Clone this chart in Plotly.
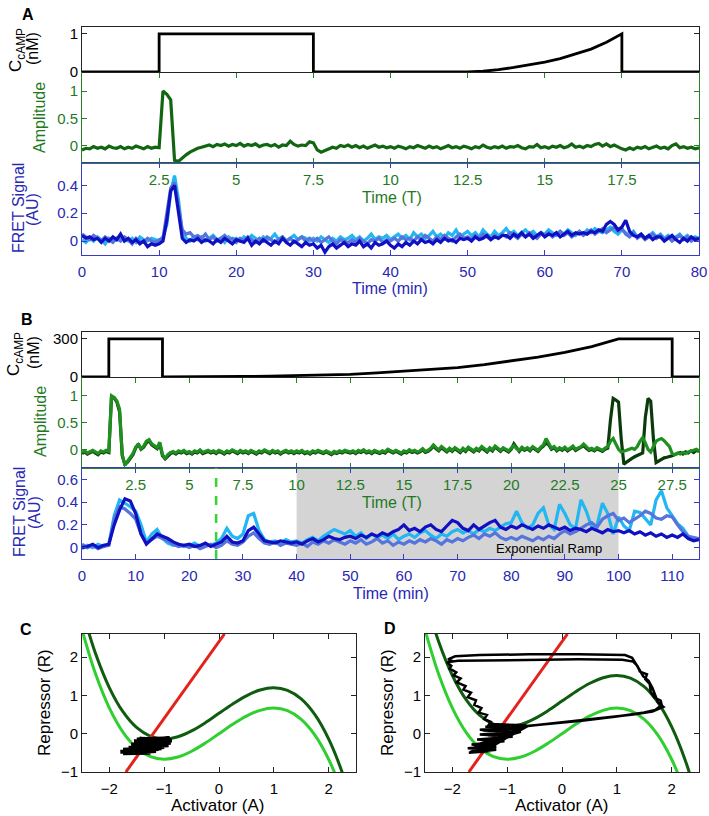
import numpy as np
import plotly.graph_objects as go

FONT = "Liberation Sans, Arial, sans-serif"
W, H = 709, 816

# ------------------------------------------------------------------ data
# Panel A : time grid (min) and traces
tA = np.arange(0, 80.01, 0.5)
ampA = [
    -0.08, -0.05, -0.06, -0.02, -0.05, -0.03, -0.06, -0.01, -0.04, -0.05,
    -0.02, -0.06, -0.03, -0.05, -0.01, -0.04, -0.06, -0.02, -0.05, -0.03,
    -0.04, 1.0, 0.94, 0.84, -0.27, -0.29, -0.22, -0.17, -0.12, -0.08,
    -0.05, -0.03, -0.01, 0.01, -0.02, 0.02, 0.0, 0.03, -0.01, 0.02,
    0.0, 0.04, -0.01, 0.02, 0.0, 0.03, -0.02, 0.01, 0.02, -0.01,
    0.02, -0.03, 0.01, 0.0, 0.08, 0.02, -0.01, 0.01, 0.0, 0.07,
    0.05, -0.08, -0.12, -0.09, -0.06, -0.03, -0.05, 0.0, -0.02, 0.01,
    -0.03, 0.0, -0.04, -0.01, -0.05, -0.02, 0.01, -0.03, -0.01, -0.04,
    -0.02, -0.05, -0.01, -0.03, -0.06, -0.02, -0.04, 0.0, -0.03, -0.05,
    -0.01, -0.04, -0.02, -0.06, -0.03, 0.0, -0.04, -0.02, -0.05, -0.01,
    -0.03, -0.06, -0.02, -0.04, 0.01, -0.03, -0.05, -0.02, -0.04, -0.01,
    -0.05, -0.02, -0.03, 0.0, -0.04, -0.06, -0.02, -0.03, 0.02, -0.04,
    -0.02, -0.05, -0.01, -0.03, 0.0, -0.04, -0.02, 0.03, -0.03, -0.01,
    -0.04, 0.0, -0.02, 0.02, 0.04, -0.01, 0.03, -0.02, 0.01, -0.03,
    -0.06, -0.08, -0.04, -0.07, -0.03, -0.05, -0.02, -0.06, -0.04, -0.01,
    -0.05, -0.03, -0.06, 0.0, 0.03, -0.04, -0.02, -0.05, -0.03, -0.06,
    -0.04]
fretA_cyan = [
    0.01, -0.01, 0.02, 0.0, 0.03, 0.01, -0.02, 0.02, 0.0, 0.01,
    0.03, 0.01, 0.0, 0.02, -0.01, 0.03, 0.01, 0.0, 0.02, 0.01,
    0.0, 0.03, 0.12, 0.35, 0.47, 0.3, 0.06, 0.02, 0.0, 0.03,
    0.01, 0.03, 0.0, 0.02, 0.04, 0.01, 0.02, -0.01, 0.03, 0.01,
    0.02, 0.0, 0.03, 0.01, 0.04, 0.02, 0.0, 0.03, 0.01, 0.02,
    0.05, 0.01, 0.03, 0.0, 0.02, 0.04, 0.01, 0.03, 0.02, 0.0,
    0.02, 0.0, 0.03, 0.01, -0.01, 0.02, 0.0, 0.03, 0.01, 0.02,
    0.04, 0.01, 0.03, 0.0, 0.02, 0.05, 0.01, 0.03, 0.02, 0.04,
    0.01, 0.03, 0.05, 0.02, 0.04, 0.01, 0.06, 0.03, 0.05, 0.02,
    0.04, 0.07, 0.03, 0.05, 0.02, 0.06, 0.04, 0.08, 0.03, 0.05,
    0.07, 0.04, 0.06, 0.03, 0.08, 0.05, 0.03, 0.07, 0.04, 0.06,
    0.09, 0.05, 0.07, 0.04, 0.06, 0.08, 0.05, 0.07, 0.04, 0.06,
    0.05, 0.08, 0.06, 0.04, 0.07, 0.05, 0.08, 0.06, 0.04, 0.07,
    0.05, 0.08, 0.06, 0.09, 0.07, 0.06, 0.08, 0.1, 0.07, 0.05,
    0.08, 0.06, 0.04, 0.07, 0.03, 0.05, 0.02, 0.04, 0.06, 0.03,
    0.05, 0.02, 0.04, 0.01, 0.03, 0.05, 0.02, 0.04, 0.01, 0.03,
    0.02]
fretA_med = [
    0.05, 0.03, 0.01, 0.04, 0.02, 0.0, 0.03, 0.01, -0.01, 0.02,
    0.0, 0.03, 0.01, -0.02, 0.02, 0.0, -0.01, 0.02, 0.0, -0.01,
    0.01, 0.02, 0.2, 0.38, 0.42, 0.26, 0.08, 0.05, 0.06, 0.03,
    0.04, 0.02, 0.05, 0.01, 0.03, 0.0, 0.02, 0.04, 0.01, 0.02,
    -0.01, 0.02, 0.0, 0.03, 0.01, -0.01, 0.02, 0.0, 0.03, 0.01,
    -0.01, 0.01, 0.03, 0.0, 0.02, -0.01, 0.01, 0.03, 0.0, 0.02,
    0.0, 0.02, -0.01, 0.01, 0.03, 0.0, -0.02, 0.01, 0.0, -0.01,
    0.01, -0.01, 0.02, 0.0, -0.02, 0.01, 0.0, 0.02, -0.01, 0.01,
    0.0, 0.02, 0.0, 0.03, 0.01, 0.02, 0.0, 0.03, 0.01, 0.04,
    0.02, 0.0, 0.03, 0.01, 0.04, 0.02, 0.0, 0.03, 0.05, 0.02,
    0.03, 0.01, 0.04, 0.02, 0.05, 0.03, 0.01, 0.04, 0.02, 0.05,
    0.03, 0.06, 0.04, 0.02, 0.05, 0.03, 0.06, 0.04, 0.02, 0.05,
    0.04, 0.06, 0.03, 0.05, 0.07, 0.04, 0.06, 0.03, 0.05, 0.07,
    0.04, 0.06, 0.08, 0.05, 0.07, 0.09, 0.06, 0.08, 0.1, 0.07,
    0.09, 0.05, 0.03, 0.06, 0.02, 0.04, 0.01, 0.03, 0.05, 0.02,
    0.04, 0.01, 0.03, 0.0, 0.02, 0.04, 0.01, 0.03, 0.0, 0.02,
    0.01]
fretA_dark = [
    0.04, 0.02, 0.03, 0.01, 0.02, -0.01, 0.02, 0.0, 0.03, 0.01,
    0.05, 0.0, 0.02, -0.01, 0.01, -0.02, 0.0, -0.04, -0.02, -0.03,
    -0.02, 0.0, 0.15, 0.36, 0.4, 0.22, 0.02, -0.01, 0.01, 0.0,
    0.02, -0.01, 0.01, 0.0, -0.02, 0.01, -0.01, 0.02, 0.0, -0.02,
    0.01, 0.0, -0.01, 0.02, -0.03, 0.0, -0.02, 0.01, -0.01, -0.03,
    0.0, -0.02, 0.02, -0.01, -0.03, 0.0, -0.02, -0.04, -0.01, -0.03,
    -0.02, -0.05, -0.03, -0.08, -0.04, -0.02, -0.05, -0.03, -0.01, -0.04,
    -0.02, -0.03, 0.0, -0.04, -0.02, -0.05, -0.01, -0.03, -0.02, 0.0,
    -0.03, -0.05, -0.02, -0.04, -0.01, -0.03, 0.0, -0.02, 0.01, -0.01,
    0.0, -0.02, 0.01, -0.01, 0.02, 0.0, 0.01, -0.01, 0.02, 0.01,
    0.02, 0.0, 0.03, 0.01, 0.02, 0.04, 0.01, 0.03, 0.02, 0.04,
    0.04, 0.02, 0.05, 0.03, 0.06, 0.03, 0.05, 0.02, 0.04, 0.06,
    0.03, 0.05, 0.04, 0.06, 0.03, 0.05, 0.07, 0.04, 0.06, 0.05,
    0.06, 0.05, 0.07, 0.06, 0.08, 0.07, 0.12, 0.14, 0.12, 0.08,
    0.1, 0.15, 0.07, 0.04, 0.03, 0.05, 0.02, 0.04, 0.01, 0.03,
    0.03, 0.0, 0.02, 0.04, 0.01, -0.01, 0.02, 0.0, 0.03, 0.01,
    0.02]
cA_t = [0, 10, 10, 30, 30, 50, 52, 54, 56, 58, 60, 62, 64, 66, 68, 70, 70, 80]
cA_v = [0, 0, 1, 1, 0, 0, 0.02, 0.06, 0.12, 0.19, 0.26, 0.35, 0.47, 0.6, 0.78, 1.0, 0, 0]

# Panel B
tB_amp = np.arange(0, 115.01, 0.5)
ampB_med = [
    -0.06, -0.03, -0.07, -0.04, -0.02, -0.05, -0.08, -0.03, -0.05, -0.02,
    -0.04, 1.0, 0.97, 0.9, 0.75, -0.1, -0.3, -0.22, -0.14, -0.08,
    0.04, 0.09, 0.01, 0.06, 0.15, 0.18, 0.1, 0.07, 0.03, 0.13,
    -0.1, -0.17, -0.1, -0.06, -0.04, -0.07, -0.03, -0.05, -0.02, -0.06,
    -0.04, -0.07, -0.03, -0.05, -0.01, -0.06, -0.04, -0.02, -0.05, -0.03,
    -0.06, -0.02, -0.04, -0.07, -0.03, -0.05, -0.01, -0.04, -0.06, -0.02,
    -0.05, -0.03, -0.06, -0.02, -0.04, -0.07, -0.03, -0.05, -0.01, -0.04,
    -0.06, -0.02, -0.05, -0.03, -0.07, -0.04, -0.02, -0.05, -0.03, -0.06,
    -0.03, -0.05, -0.02, -0.06, -0.04, -0.07, -0.03, -0.05, -0.02, -0.04,
    -0.06, -0.03, -0.05, -0.08, -0.04, -0.06, -0.03, -0.05, -0.02, -0.04,
    -0.05, -0.03, -0.06, -0.02, -0.04, -0.01, -0.05, -0.03, -0.06, -0.02,
    -0.04, -0.06, -0.03, -0.05, 0.0, -0.03, -0.05, -0.02, -0.04, -0.07,
    -0.03, -0.05, -0.01, -0.04, -0.02, -0.05, -0.03, 0.01, -0.04, -0.02,
    0.02, 0.08, 0.03, -0.01, 0.05, 0.01, -0.03, 0.02, -0.02, 0.03,
    -0.01, -0.04, 0.02, -0.02, 0.04, 0.0, -0.03, 0.02, -0.01, 0.05,
    0.0, -0.03, 0.03, -0.01, 0.06, 0.01, -0.02, 0.03, 0.0, -0.03,
    0.02, 0.07, 0.01, -0.02, 0.04, 0.0, 0.03, -0.01, 0.05, 0.01,
    -0.02, 0.04, 0.08, 0.2, 0.12, 0.02, 0.05, -0.01, 0.03, 0.0,
    0.04, -0.01, 0.02, 0.06, 0.0, 0.03, 0.05, 0.1, 0.04, 0.0,
    0.02, -0.01, 0.03, 0.0, -0.02, 0.02, 0.05, 0.15, 0.2, 0.1,
    0.0, -0.05, -0.04, -0.02, 0.0, 0.02, 0.0, 0.05, 0.15, 0.22,
    0.12, 0.0, -0.05, 0.05, 0.15, 0.18, 0.2, 0.16, 0.1, 0.05,
    -0.08, -0.1, -0.07, -0.09, -0.06, -0.08, -0.05, -0.04, -0.02, 0.0,
    -0.03]
ampB_dark = [
    -0.08, -0.05, -0.09, -0.06, -0.04, -0.07, -0.1, -0.05, -0.07, -0.04,
    -0.06, 0.98, 0.96, 0.88, 0.7, -0.12, -0.28, -0.24, -0.16, -0.1,
    0.02, 0.1, 0.0, 0.04, 0.12, 0.16, 0.08, 0.05, 0.01, 0.1,
    -0.12, -0.18, -0.12, -0.08, -0.06, -0.09, -0.05, -0.07, -0.04, -0.08,
    -0.06, -0.09, -0.05, -0.07, -0.03, -0.08, -0.06, -0.04, -0.07, -0.05,
    -0.08, -0.04, -0.06, -0.09, -0.05, -0.07, -0.03, -0.06, -0.08, -0.04,
    -0.07, -0.05, -0.08, -0.04, -0.06, -0.09, -0.05, -0.07, -0.03, -0.06,
    -0.08, -0.04, -0.07, -0.05, -0.09, -0.06, -0.04, -0.07, -0.05, -0.08,
    -0.05, -0.07, -0.04, -0.08, -0.06, -0.09, -0.05, -0.07, -0.04, -0.06,
    -0.08, -0.05, -0.07, -0.1, -0.06, -0.08, -0.05, -0.07, -0.04, -0.06,
    -0.07, -0.05, -0.08, -0.04, -0.06, -0.03, -0.07, -0.05, -0.08, -0.04,
    -0.06, -0.08, -0.05, -0.07, -0.02, -0.05, -0.07, -0.04, -0.06, -0.09,
    -0.05, -0.07, -0.03, -0.06, -0.04, -0.07, -0.05, -0.01, -0.06, -0.04,
    0.0, 0.06, 0.01, -0.03, 0.03, -0.01, -0.05, 0.0, -0.04, 0.01,
    -0.03, -0.06, 0.0, -0.04, 0.02, -0.02, -0.05, 0.0, -0.03, 0.03,
    -0.02, -0.05, 0.01, -0.03, 0.04, -0.01, -0.04, 0.01, -0.02, -0.05,
    0.0, 0.1, 0.03, -0.04, 0.02, -0.02, 0.01, -0.03, 0.03, -0.01,
    -0.04, 0.02, 0.06, 0.12, 0.08, 0.0, 0.03, -0.03, 0.01, -0.02,
    0.02, -0.03, 0.0, 0.04, -0.02, 0.01, 0.03, 0.07, 0.02, -0.02,
    0.0, -0.03, 0.01, -0.02, -0.04, 0.0, 0.02, 0.55, 0.95, 0.92,
    0.88, 0.2, -0.28, -0.24, -0.2, -0.17, -0.14, -0.12, -0.1, -0.07,
    0.6, 0.95, 0.9, 0.2, -0.25, -0.22, -0.18, -0.16, -0.15, -0.14,
    -0.12, -0.1, -0.08, -0.06, -0.09, -0.05, -0.07, -0.03, -0.06, -0.02,
    -0.04]
tB = np.arange(0, 115.01, 1.0)
fretB_cyan = [
    -0.01, 0.02, 0.0, 0.03, 0.01, 0.03, 0.28, 0.42, 0.39, 0.36,
    0.32, 0.2, 0.05, 0.12, 0.16, 0.08, 0.04, 0.02, 0.03, 0.01,
    0.02, 0.04, 0.01, 0.03, 0.02, 0.04, 0.08, 0.17, 0.1, 0.08,
    0.12, 0.28, 0.3, 0.15, 0.07, 0.05, 0.06, 0.04, 0.07, 0.05,
    0.06, 0.04, 0.07, 0.09, 0.06, 0.1, 0.13, 0.16, 0.14, 0.12,
    0.15, 0.1, 0.13, 0.08, 0.12, 0.09, 0.11, 0.08, 0.12, 0.07,
    0.1, 0.12, 0.09, 0.13, 0.15, 0.11, 0.08, 0.12, 0.1, 0.14,
    0.16, 0.13, 0.15, 0.12, 0.16, 0.14, 0.17, 0.15, 0.18, 0.21,
    0.22, 0.32, 0.22, 0.17, 0.2, 0.3, 0.35, 0.2, 0.16, 0.38,
    0.3, 0.2, 0.17, 0.42, 0.32, 0.18, 0.2, 0.39, 0.3, 0.12,
    0.27, 0.19, 0.15, 0.32, 0.31, 0.25, 0.2, 0.42, 0.5, 0.35,
    0.28, 0.21, 0.17, 0.1, 0.08, 0.08]
fretB_med = [
    0.03, 0.0, 0.02, -0.01, 0.01, 0.02, 0.25, 0.36, 0.34, 0.3,
    0.25, 0.12, 0.04, 0.07, 0.1, 0.08, 0.06, 0.03, 0.01, 0.02,
    0.0, 0.02, -0.01, 0.01, 0.03, 0.0, 0.02, 0.06, 0.03, 0.02,
    0.05, 0.1, 0.13, 0.08, 0.04, 0.03, 0.05, 0.02, 0.04, 0.03,
    0.02, 0.04, 0.01, 0.05, 0.03, 0.06, 0.04, 0.07, 0.05, 0.03,
    0.06, 0.04, 0.07, 0.03, 0.05, 0.08, 0.04, 0.06, 0.02, 0.05,
    0.03, 0.06, 0.04, 0.07, 0.05, 0.08, 0.06, 0.03, 0.07, 0.05,
    0.08, 0.06, 0.09, 0.11, 0.08, 0.12, 0.1, 0.13, 0.09, 0.07,
    0.09, 0.07, 0.1, 0.08, 0.06, 0.09, 0.07, 0.1, 0.08, 0.12,
    0.15, 0.12, 0.14, 0.17, 0.2, 0.22, 0.18, 0.25, 0.28, 0.3,
    0.24, 0.26, 0.22, 0.25, 0.28, 0.32, 0.3, 0.26, 0.25, 0.28,
    0.27, 0.2, 0.14, 0.1, 0.09, 0.08]
fretB_dark = [
    0.0, 0.01, 0.03, 0.0, 0.02, 0.03, 0.2, 0.33, 0.43, 0.41,
    0.3, 0.12, 0.03, 0.08, 0.12, 0.1, 0.08, 0.05, 0.03, 0.02,
    0.03, 0.01, 0.02, 0.04, 0.01, 0.03, 0.05, 0.1, 0.05, 0.04,
    0.06, 0.15, 0.18, 0.12, 0.06, 0.05, 0.04, 0.06, 0.05, 0.04,
    0.05, 0.03, 0.06, 0.08, 0.05, 0.07, 0.1, 0.08, 0.07, 0.09,
    0.1, 0.08, 0.11, 0.09, 0.12, 0.1, 0.13, 0.11, 0.14, 0.16,
    0.2, 0.15, 0.17, 0.14, 0.18, 0.2, 0.16, 0.14, 0.19, 0.24,
    0.22, 0.17, 0.15, 0.2, 0.16, 0.19, 0.22, 0.24, 0.18, 0.16,
    0.19, 0.17, 0.2, 0.18, 0.16, 0.19, 0.17, 0.2, 0.18, 0.16,
    0.18, 0.15, 0.17, 0.16, 0.14, 0.17, 0.15, 0.13, 0.16, 0.14,
    0.15, 0.13, 0.15, 0.12, 0.14, 0.11, 0.13, 0.1, 0.12, 0.09,
    0.11, 0.09, 0.12, 0.08, 0.06, 0.07]
cB_t = [0, 5, 5, 15, 15, 25, 30, 35, 40, 45, 50, 55, 60, 65, 70, 75, 80, 85, 90, 95, 100, 110, 110, 115]
cB_v = [0, 0, 300, 300, 0, 0, 4, 7, 11, 15, 21, 32, 45, 58, 74, 98, 127, 157, 194, 240, 300, 300, 0, 0]

# tick labels
TA_pos = [10, 20, 30, 40, 50, 60, 70]
TA_lab = ["2.5", "5", "7.5", "10", "12.5", "15", "17.5"]
TB_pos = [10, 20, 30, 40, 50, 60, 70, 80, 90, 100, 110]
TB_lab = ["2.5", "5", "7.5", "10", "12.5", "15", "17.5", "20", "22.5", "25", "27.5"]

# Panels C and D : nullclines
nc_A = [-2.5, -2.25, -2.0, -1.75, -1.5, -1.25, -1.0, -0.75, -0.5, -0.25, 0.0,
        0.25, 0.5, 0.75, 1.0, 1.25, 1.5, 1.75, 2.0, 2.25, 2.5]
nc_light = [2.708, 1.547, 0.667, 0.036, -0.375, -0.599, -0.667, -0.609, -0.458, -0.245, 0.0,
            0.245, 0.458, 0.609, 0.667, 0.599, 0.375, -0.036, -0.667, -1.547, -2.708]
nc_darkC = [3.238, 2.077, 1.197, 0.566, 0.155, -0.069, -0.137, -0.079, 0.072, 0.285, 0.53,
            0.775, 0.988, 1.139, 1.197, 1.129, 0.905, 0.494, -0.137, -1.017, -2.178]
nc_darkD = [3.558, 2.397, 1.517, 0.886, 0.475, 0.251, 0.183, 0.241, 0.392, 0.605, 0.85,
            1.095, 1.308, 1.459, 1.517, 1.449, 1.225, 0.814, 0.183, -0.697, -1.858]
red_A = [-1.7, 0.1]
red_R = [-1.0, 2.6]
trajC_A = [-1.5, -0.9, -1.55, -0.86, -1.5, -0.88, -1.6, -0.92, -1.65, -1.0, -1.75, -1.1,
           -1.8, -1.15, -1.75, -1.25, -1.7, -1.05, -1.6, -0.95, -1.45, -1.0, -1.4, -1.3,
           -1.2, -1.55, -0.95, -1.7, -1.35]
trajC_R = [-0.15, -0.12, -0.2, -0.18, -0.26, -0.24, -0.32, -0.3, -0.37, -0.35, -0.42, -0.4,
           -0.47, -0.45, -0.51, -0.5, -0.44, -0.38, -0.28, -0.22, -0.13, -0.15, -0.3, -0.47,
           -0.2, -0.38, -0.27, -0.5, -0.35]
trajD_A = [-1.3, -1.7, -1.2, -1.72, -1.25, -1.65, -1.05, -1.55, -0.9, -1.5, -0.8, -1.45, -0.7,
           -1.4, -0.65, -1.3, -0.75, -1.35, -0.95, -1.6, -1.45,
           -0.65, -0.2, 0.4, 1.0, 1.3, 1.5, 1.7, 1.82, 1.8, 1.68, 1.62, 1.6, 1.52, 1.55, 1.42,
           1.38, 1.3, 1.1, 0.3, -0.6, -1.4, -1.9, -2.1, -2.02, -2.05, -1.93, -1.98, -1.85, -1.92,
           -1.76, -1.8, -1.66, -1.72, -1.57, -1.6, -1.47, -1.52, -1.37, -1.42, -1.3, -1.35,
           -0.8, -1.5, -0.75, -1.6, -1.2, -1.68, -1.0, -0.62,
           0.0, 0.7, 1.3, 1.65, 1.85, 1.75, 1.7, 1.65, 1.58, 1.48, 1.4, 1.33, 1.28, 1.15, 0.3,
           -0.6, -1.5, -1.95, -2.08, -1.97]
trajD_R = [-0.45, -0.5, -0.42, -0.38, -0.33, -0.28, -0.2, -0.15, -0.08, -0.02, 0.05, 0.08, 0.15,
           0.18, 0.22, 0.25, 0.1, -0.05, 0.0, -0.42, -0.48,
           0.2, 0.26, 0.34, 0.45, 0.52, 0.55, 0.62, 0.75, 0.86, 0.95, 1.1, 1.3, 1.42, 1.55, 1.62,
           1.76, 1.88, 1.93, 1.94, 1.93, 1.92, 1.9, 1.86, 1.77, 1.7, 1.6, 1.52, 1.44, 1.34,
           1.24, 1.15, 1.07, 0.95, 0.87, 0.75, 0.67, 0.55, 0.49, 0.38, 0.31, 0.2,
           0.18, 0.1, 0.05, -0.3, -0.35, -0.48, -0.1, 0.2,
           0.3, 0.4, 0.5, 0.58, 0.7, 0.82, 1.0, 1.2, 1.38, 1.5, 1.7, 1.85, 1.98, 2.05, 2.07,
           2.07, 2.05, 2.02, 1.94, 1.88]

for arr in (ampA, fretA_cyan, fretA_med, fretA_dark):
    assert len(arr) == len(tA), len(arr)
for arr in (ampB_med, ampB_dark):
    assert len(arr) == len(tB_amp), len(arr)
for arr in (fretB_cyan, fretB_med, fretB_dark):
    assert len(arr) == len(tB), len(arr)
assert len(trajD_A) == len(trajD_R)
assert len(trajC_A) == len(trajC_R)

# ------------------------------------------------------------------ styles
DARK = "#222222"
GREEN = "#2a7f2a"
GREEN_T = "#1f7a1f"
BLUE = "#3a3ac4"
BLUE_T = "#2828b4"
C_AMP_A = "#126612"
C_AMP_BD = "#0b3b0b"
C_AMP_BM = "#1f8f1f"
C_CYAN = "#22b6f2"
C_MED = "#5574dc"
C_DARK = "#1010c2"
C_LG = "#2fcf2f"
C_DG = "#0f5c0f"
C_RED = "#e4221b"


def px(x):
    return x / W


def py(y):
    return 1 - y / H


fig = go.Figure()


def add(x, y, ax, color, width=3, shape="linear"):
    fig.add_trace(go.Scatter(x=x, y=y, xaxis="x" + ax, yaxis="y" + ax, mode="lines",
                             line=dict(color=color, width=width, shape=shape),
                             showlegend=False, hoverinfo="skip"))


# Panel A
add(cA_t, cA_v, "", "black", 2.8)
add(tA, ampA, "2", C_AMP_A, 3.2)
add(tA, fretA_cyan, "3", C_CYAN, 3.2)
add(tA, fretA_med, "3", C_MED, 3.2)
add(tA, fretA_dark, "3", C_DARK, 3.2)
# Panel B
add(cB_t, cB_v, "4", "black", 2.8)
add(tB_amp, ampB_dark, "5", C_AMP_BD, 3.2)
add(tB_amp, ampB_med, "5", C_AMP_BM, 3.2)
add(tB, fretB_cyan, "6", C_CYAN, 3.2)
add(tB, fretB_med, "6", C_MED, 3.2)
add(tB, fretB_dark, "6", C_DARK, 3.2)
# Panel C
add(nc_A, nc_light, "7", C_LG, 3, "spline")
add(nc_A, nc_darkC, "7", C_DG, 3, "spline")
add(red_A, red_R, "7", C_RED, 3)
add(trajC_A, trajC_R, "7", "black", 4)
# Panel D
add(nc_A, nc_light, "8", C_LG, 3, "spline")
add(nc_A, nc_darkD, "8", C_DG, 3, "spline")
add(red_A, red_R, "8", C_RED, 3)
add(trajD_A, trajD_R, "8", "black", 2.5)


def axis(**kw):
    d = dict(showgrid=False, zeroline=False, showline=True, linewidth=1, automargin=False,
             ticks="inside", ticklen=5, tickwidth=1, fixedrange=True,
             tickfont=dict(family=FONT, size=15, color="black"))
    d.update(kw)
    return d


xdA = [px(82), px(699)]
xdC = [px(82), px(356)]
xdD = [px(425), px(699)]

layout_axes = dict(
    # A: cAMP
    xaxis=axis(domain=xdA, range=[0, 80], anchor="y", showticklabels=False, ticks="outside",
               tickvals=TA_pos, tickcolor=GREEN, linecolor=DARK, mirror=True),
    yaxis=axis(domain=[py(72), py(27)], range=[0, 1.18], anchor="x", tickvals=[0, 1],
               linecolor=DARK, tickcolor=DARK, mirror="ticks"),
    # A: amplitude (T axis)
    xaxis2=axis(domain=xdA, range=[0, 80], anchor="y2", tickvals=TA_pos, ticktext=TA_lab,
                linecolor=GREEN, tickcolor=GREEN, ticklabelstandoff=3,
                tickfont=dict(family=FONT, size=15, color=GREEN_T)),
    yaxis2=axis(domain=[py(163), py(72)], range=[-0.32, 1.35], anchor="x2", tickvals=[0, 0.5, 1],
                ticktext=["0", "0.5", "1"], linecolor=GREEN, tickcolor=GREEN, mirror="ticks",
                tickfont=dict(family=FONT, size=15, color=GREEN_T)),
    # A: FRET
    xaxis3=axis(domain=xdA, range=[0, 80], anchor="y3", tickvals=list(range(0, 81, 10)),
                linecolor=BLUE, tickcolor=BLUE, mirror="ticks", ticklabelstandoff=3,
                tickfont=dict(family=FONT, size=15, color=BLUE_T)),
    yaxis3=axis(domain=[py(255), py(163)], range=[-0.1, 0.56], anchor="x3", tickvals=[0, 0.2, 0.4],
                ticktext=["0", "0.2", "0.4"], linecolor=BLUE, tickcolor=BLUE, mirror="ticks",
                tickfont=dict(family=FONT, size=15, color=BLUE_T)),
    # B: cAMP
    xaxis4=axis(domain=xdA, range=[0, 115], anchor="y4", showticklabels=False, ticks="outside",
                tickvals=TB_pos, tickcolor=GREEN, linecolor=DARK, mirror=True),
    yaxis4=axis(domain=[py(377), py(332)], range=[0, 355], anchor="x4", tickvals=[0, 300],
                linecolor=DARK, tickcolor=DARK, mirror="ticks"),
    # B: amplitude
    xaxis5=axis(domain=xdA, range=[0, 115], anchor="y5", tickvals=TB_pos, ticktext=TB_lab,
                linecolor=GREEN, tickcolor=GREEN, ticklabelstandoff=3,
                tickfont=dict(family=FONT, size=15, color=GREEN_T)),
    yaxis5=axis(domain=[py(468), py(377)], range=[-0.35, 1.35], anchor="x5", tickvals=[0, 0.5, 1],
                ticktext=["0", "0.5", "1"], linecolor=GREEN, tickcolor=GREEN, mirror="ticks",
                tickfont=dict(family=FONT, size=15, color=GREEN_T)),
    # B: FRET
    xaxis6=axis(domain=xdA, range=[0, 115], anchor="y6", tickvals=list(range(0, 111, 10)),
                linecolor=BLUE, tickcolor=BLUE, mirror="ticks", ticklabelstandoff=3,
                tickfont=dict(family=FONT, size=15, color=BLUE_T)),
    yaxis6=axis(domain=[py(559), py(468)], range=[-0.1, 0.7], anchor="x6",
                tickvals=[0, 0.2, 0.4, 0.6], ticktext=["0", "0.2", "0.4", "0.6"],
                linecolor=BLUE, tickcolor=BLUE, mirror="ticks",
                tickfont=dict(family=FONT, size=15, color=BLUE_T)),
    # C
    xaxis7=axis(domain=xdC, range=[-2.5, 2.5], anchor="y7", tickvals=[-2, -1, 0, 1, 2],
                linecolor=DARK, tickcolor=DARK, mirror="ticks", ticklabelstandoff=3),
    yaxis7=axis(domain=[py(772), py(634)], range=[-1, 2.6], anchor="x7", tickvals=[-1, 0, 1, 2],
                linecolor=DARK, tickcolor=DARK, mirror="ticks"),
    # D
    xaxis8=axis(domain=xdD, range=[-2.5, 2.5], anchor="y8", tickvals=[-2, -1, 0, 1, 2],
                linecolor=DARK, tickcolor=DARK, mirror="ticks", ticklabelstandoff=3),
    yaxis8=axis(domain=[py(772), py(634)], range=[-1, 2.6], anchor="x8", tickvals=[-1, 0, 1, 2],
                linecolor=DARK, tickcolor=DARK, mirror="ticks"),
)


def ann(text, x, y, size=15, color="black", angle=0, **kw):
    d = dict(text=text, x=px(x), y=py(y), xref="paper", yref="paper", showarrow=False,
             font=dict(family=FONT, size=size, color=color), textangle=angle,
             xanchor="center", yanchor="middle")
    d.update(kw)
    return d


annotations = [
    ann("<b>A</b>", 28, 14, 16),
    ann("<b>B</b>", 27, 320, 16),
    ann("<b>C</b>", 26, 629, 16),
    ann("<b>D</b>", 390, 628, 16),
    # Panel A labels
    ann("C<sub>cAMP</sub>", 17, 50, 17, "black", -90),
    ann("(nM)", 32, 49, 16, "black", -90),
    ann("Amplitude", 39, 118, 16, GREEN_T, -90),
    ann("FRET Signal", 18, 208, 16, BLUE_T, -90),
    ann("(AU)", 33, 210, 16, BLUE_T, -90),
    ann("Time (T)", 392, 197, 16, GREEN_T),
    ann("Time (min)", 390, 288, 16, BLUE_T),
    # Panel B labels
    ann("C<sub>cAMP</sub>", 15, 354, 17, "black", -90),
    ann("(nM)", 33, 353, 16, "black", -90),
    ann("Amplitude", 40, 422, 16, GREEN_T, -90),
    ann("FRET Signal", 19, 512, 16, BLUE_T, -90),
    ann("(AU)", 34, 513, 16, BLUE_T, -90),
    ann("Time (T)", 392, 502, 16, GREEN_T),
    ann("Time (min)", 391, 593, 16, BLUE_T),
    # Panel C, D labels
    ann("Repressor (R)", 44, 703, 17, "black", -90),
    ann("Activator (A)", 218, 805, 17),
    ann("Repressor (R)", 387, 703, 17, "black", -90),
    ann("Activator (A)", 562, 805, 17),
    # Exponential ramp text
    dict(text="Exponential Ramp", x=87, y=-0.005, xref="x6", yref="y6", showarrow=False,
         font=dict(family=FONT, size=13, color="black"), xanchor="center", yanchor="middle"),
]

shapes = [
    # gray band: x in data minutes, y spanning the FRET panel (paper units)
    dict(type="rect", xref="x6", yref="paper", x0=40, x1=100, y0=py(559), y1=py(468),
         fillcolor="#d4d4d4", line=dict(width=0), layer="below"),
    dict(type="line", xref="x6", yref="y6", x0=25, x1=25, y0=-0.1, y1=0.7,
         line=dict(color="#33d633", width=2.5, dash="dash"), layer="above"),
]

fig.update_layout(
    width=W, height=H,
    margin=dict(l=0, r=0, t=0, b=0, pad=0),
    paper_bgcolor="white", plot_bgcolor="rgba(0,0,0,0)",
    showlegend=False,
    font=dict(family=FONT, size=15, color="black"),
    annotations=annotations,
    shapes=shapes,
)
fig.update_layout(**layout_axes)

fig.write_html("out.html",
               config={"displayModeBar": False, "staticPlot": True},
               post_script="document.body.style.margin='0';document.body.style.overflow='hidden';")
